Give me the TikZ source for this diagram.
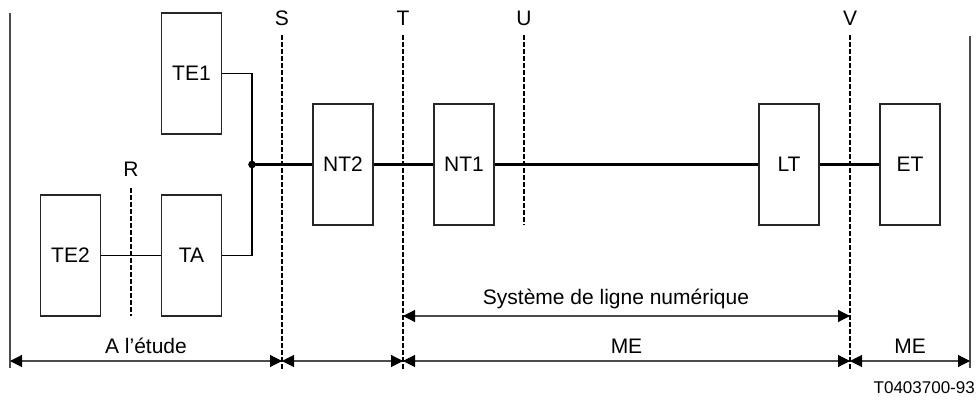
\documentclass[tikz,border=0pt]{standalone}
\usepackage{fontspec}
\setmainfont{Liberation Sans}
\usetikzlibrary{arrows.meta}
\begin{document}
\begin{tikzpicture}[x=1pt,y=-1pt,
  blk/.style={draw=black!85,line width=1.4pt,minimum width=60pt,minimum height=121pt,inner sep=0pt,font=\fontsize{21}{25}\selectfont},
  lbl/.style={font=\fontsize{21}{25}\selectfont,inner sep=0pt,anchor=base},
  refline/.style={line width=2pt,dash pattern=on 5pt off 2pt},
  conn/.style={line width=1.4pt},
  mainconn/.style={line width=2.2pt},
  border/.style={draw=black!70,line width=1.1pt},
  dimarrow/.style={draw=black!70,line width=1.1pt,{Triangle[length=12pt,width=12pt,color=black]}-{Triangle[length=12pt,width=12pt,color=black]}}]
\useasboundingbox (0,0) rectangle (978,401);

% blocks
\node[blk] (te1) at (191.5,73.5) {TE1};
\node[blk] (te2) at (70.5,255.5) {TE2};
\node[blk] (ta) at (191.5,255.5) {TA};
\node[blk] (nt2) at (343,164.5) {NT2};
\node[blk] (nt1) at (464,164.5) {NT1};
\node[blk] (lt) at (789,164.5) {LT};
\node[blk] (et) at (910,164.5) {ET};

% junction
\coordinate (j) at (252,164.5);
\fill (j) circle (3.8pt);

% connections
\draw[conn] (te1.east) -| (j);
\draw[conn] (ta.east) -| (j);
\draw[conn] (te2) -- (ta);
\draw[mainconn] (j) -- (nt2);
\draw[mainconn] (nt2) -- (nt1);
\draw[mainconn] (nt1) -- (lt);
\draw[mainconn] (lt) -- (et);

% outer borders
\coordinate (lb1) at (10,13);
\coordinate (lb2) at (10,368);
\coordinate (rb1) at (970,36);
\coordinate (rb2) at (970,368);
\draw[border] (lb1) -- (lb2);
\draw[border] (rb1) -- (rb2);

% reference points
\node[lbl] (lS) at (282,26) {S};
\node[lbl] (lT) at (403,26) {T};
\node[lbl] (lU) at (524,26) {U};
\node[lbl] (lV) at (850,26) {V};
\node[lbl] (lR) at (131,177) {R};
\coordinate (s1) at (282,35); \coordinate (s2) at (282,370);
\coordinate (t1) at (403,35); \coordinate (t2) at (403,370);
\coordinate (u1) at (524,35); \coordinate (u2) at (524,225);
\coordinate (v1) at (850,35); \coordinate (v2) at (850,370);
\coordinate (r1) at (131,188); \coordinate (r2) at (131,316);
\draw[refline] (s1) -- (s2);
\draw[refline] (t1) -- (t2);
\draw[refline] (u1) -- (u2);
\draw[refline] (v1) -- (v2);
\draw[refline] (r1) -- (r2);

% dimension arrows
\coordinate (d0) at (10,361);
\coordinate (d1) at (282,361);
\coordinate (d2) at (403,361);
\coordinate (d3) at (850,361);
\coordinate (d4) at (970,361);
\coordinate (e1) at (403,316);
\coordinate (e2) at (850,316);
\draw[dimarrow] (d0) -- (d1);
\draw[dimarrow] (d1) -- (d2);
\draw[dimarrow] (d2) -- (d3);
\draw[dimarrow] (d3) -- (d4);
\draw[dimarrow] (e1) -- (e2);

\node[lbl] (etude) at (146,353) {A l’étude};
\node[lbl] (me1) at (626.5,353) {ME};
\node[lbl] (me2) at (910,353) {ME};
\node[lbl] (sys) at (616,304) {Système de ligne numérique};
\node[font=\fontsize{17}{20}\selectfont,inner sep=0pt,anchor=base east] (fig) at (975,393) {T0403700-93};
\end{tikzpicture}
\end{document}
